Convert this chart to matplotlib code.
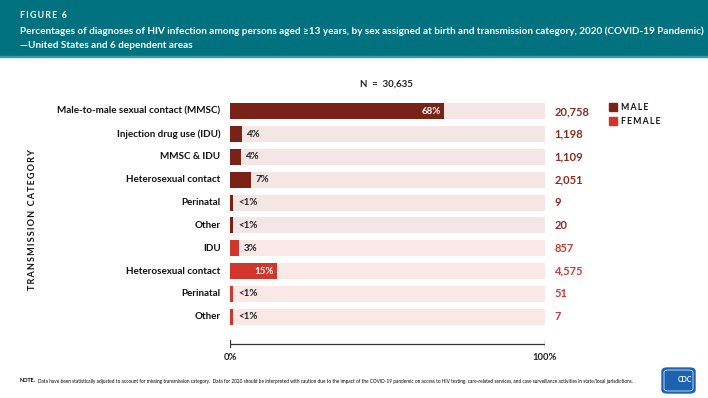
import matplotlib.pyplot as plt
from matplotlib.patches import Rectangle, FancyBboxPatch

plt.rcParams['font.family'] = ['Lato', 'DejaVu Sans']

# data
categories = ["Male-to-male sexual contact (MMSC)", "Injection drug use (IDU)", "MMSC & IDU",
              "Heterosexual contact", "Perinatal", "Other",
              "IDU", "Heterosexual contact", "Perinatal", "Other"]
sex = ["male"] * 6 + ["female"] * 4
pct = [67.8, 3.9, 3.6, 6.7, 1.0, 1.0, 2.8, 14.9, 1.0, 1.0]
pct_labels = ["68%", "4%", "4%", "7%", "<1%", "<1%", "3%", "15%", "<1%", "<1%"]
counts = ["20,758", "1,198", "1,109", "2,051", "9", "20", "857", "4,575", "51", "7"]
total_label = "N  =  30,635"

bar_col = {"male": "#7b2216", "female": "#d1352b"}
bg_col = {"male": "#f3e6e4", "female": "#fae8e7"}
num_col = {"male": "#8c2a1d", "female": "#d23a2f"}
teal = "#00727f"

W, H = 708, 398
fig = plt.figure(figsize=(W / 100, H / 100), dpi=100)

def fx(px):
    return px / W

def fy(py):
    return 1 - py / H

def spaced(s):
    # wide letter spacing with thin spaces
    return "\u2009".join(s).replace("\u2009 \u2009", "\u2009\u2009\u2009\u2009")

# header band
fig.patches.append(Rectangle((0, fy(56)), 1, 56 / H, transform=fig.transFigure,
                             color=teal, zorder=0))
fig.patches.append(Rectangle((0, fy(57)), 1, 1.2 / H, transform=fig.transFigure,
                             color="#3a9aa5", zorder=0))
fig.text(fx(20), fy(16), spaced("FIGURE 6"), color="white", fontsize=6.4,
         fontweight="bold", va="center")
fig.text(fx(20), fy(31), "Percentages of diagnoses of HIV infection among persons aged \u226513 years, "
         "by sex assigned at birth and transmission category, 2020 (COVID-19 Pandemic)",
         color="white", fontsize=7.2, fontweight="bold", va="center")
fig.text(fx(20), fy(45), "\u2014United States and 6 dependent areas", color="white",
         fontsize=7.2, fontweight="bold", va="center")

# bars
ax = fig.add_axes([fx(230), fy(328), fx(545) - fx(230), (328 - 100) / H])
y = list(range(len(categories)))
ax.barh(y, [100] * len(y), height=0.7, color=[bg_col[s] for s in sex], zorder=1)
ax.barh(y, pct, height=0.7, color=[bar_col[s] for s in sex], zorder=2)
ax.set_xlim(0, 100)
ax.set_ylim(len(y) - 0.5, -0.5)
ax.axis("off")

for i in y:
    if pct[i] > 10:
        ax.text(pct[i] - 1, i, pct_labels[i], color="white", fontsize=7,
                fontweight="bold", ha="right", va="center", zorder=3)
    else:
        ax.text(pct[i] + 1.5, i, pct_labels[i], color="#222222", fontsize=7,
                fontweight="bold", ha="left", va="center", zorder=3)
    ax.text(103, i, counts[i], color=num_col[sex[i]], fontsize=8,
            fontweight="bold", ha="left", va="center")
    ax.text(-3, i, categories[i], color="#111111", fontsize=7.1,
            fontweight="bold", ha="right", va="center")

fig.text(fx(386), fy(84), total_label, fontsize=7,
         fontweight="bold", ha="center", va="center", color="#222222")

# legend
for lbl, col, py in [("MALE", bar_col["male"], 107), ("FEMALE", bar_col["female"], 121)]:
    fig.patches.append(Rectangle((fx(609), fy(py + 4)), 8 / W, 8 / H,
                                 transform=fig.transFigure, color=col))
    fig.text(fx(621), fy(py), spaced(lbl), fontsize=6.3, fontweight="bold", va="center",
             color="#111111")

# y label
fig.text(fx(33), fy(220), spaced("TRANSMISSION CATEGORY"), rotation=90,
         fontsize=6.5, fontweight="bold", ha="center", va="center", color="#111111")

# x axis line
ax2 = fig.add_axes([fx(230), fy(348), fx(545) - fx(230), 8 / H])
ax2.set_xlim(0, 100)
ax2.set_ylim(-1, 1)
ax2.plot([0, 100], [0, 0], color="#333333", lw=0.9)
ax2.plot([0, 0], [-1, 1], color="#333333", lw=0.9)
ax2.plot([100, 100], [-1, 1], color="#333333", lw=0.9)
ax2.axis("off")
fig.text(fx(230), fy(357), "0%", fontsize=6.8, fontweight="bold", ha="center",
         va="center", color="#222222")
fig.text(fx(545), fy(357), "100%", fontsize=6.8, fontweight="bold", ha="center",
         va="center", color="#222222")

# note
fig.text(fx(20), fy(381), "NOTE.", fontsize=3.9, fontweight="bold", va="center")
fig.text(fx(38), fy(381), "Data have been statistically adjusted to account for missing transmission "
         "category.  Data for 2020 should be interpreted with caution due to the impact of the "
         "COVID-19 pandemic on access to HIV testing, care-related services, and case surveillance "
         "activities in state/local jurisdictions.", fontsize=3.4, va="center")

# CDC logo
fig.patches.append(FancyBboxPatch((fx(662), fy(393)), 33 / W, 25 / H,
                                  boxstyle="round,pad=0,rounding_size=0.008",
                                  transform=fig.transFigure, color="#1b62b0"))
fig.patches.append(FancyBboxPatch((fx(664), fy(391)), 29 / W, 21 / H,
                                  boxstyle="round,pad=0,rounding_size=0.006",
                                  transform=fig.transFigure, facecolor="none",
                                  edgecolor="white", lw=0.5))
fig.text(fx(685), fy(380), "CDC", fontsize=5, fontweight="bold", color="white",
         ha="center", va="center")

fig.savefig("out.png", dpi=100)
